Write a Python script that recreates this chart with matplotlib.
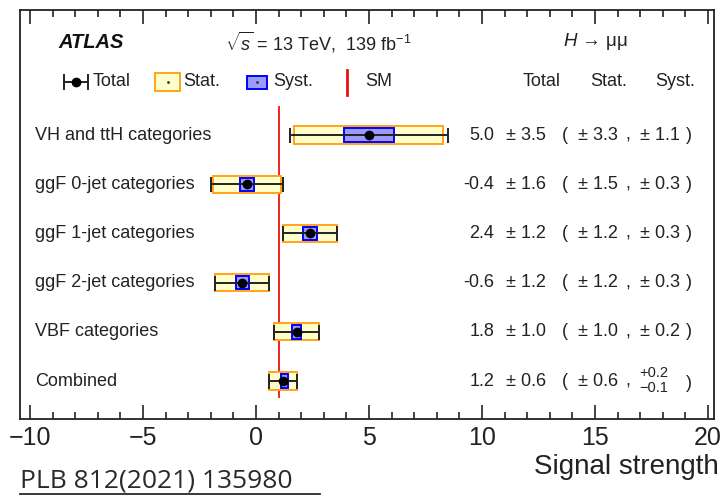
import matplotlib.pyplot as plt
from matplotlib.lines import Line2D
from matplotlib.patches import Rectangle

plt.rcParams['font.family'] = ['Liberation Sans', 'DejaVu Sans']
plt.rcParams['mathtext.fontset'] = 'custom'
plt.rcParams['mathtext.rm'] = 'Liberation Sans'
plt.rcParams['mathtext.it'] = 'Liberation Sans:italic'

# data
categories = ['VH and ttH categories', 'ggF 0-jet categories', 'ggF 1-jet categories',
              'ggF 2-jet categories', 'VBF categories', 'Combined']
mu = [5.0, -0.4, 2.4, -0.6, 1.8, 1.2]
tot_err = [3.5, 1.6, 1.2, 1.2, 1.0, 0.6]
stat_err = [3.3, 1.5, 1.2, 1.2, 1.0, 0.6]
syst_up = [1.1, 0.3, 0.3, 0.3, 0.2, 0.2]
syst_dn = [1.1, 0.3, 0.3, 0.3, 0.2, 0.1]
sm_value = 1.0

W, H = 725, 496
fig = plt.figure(figsize=(W / 100, H / 100), dpi=100)
ax = fig.add_axes([20 / W, 1 - 419 / H, (714 - 20) / W, (419 - 10) / H])

rows = list(range(len(categories)))
txt = '#222222'

# stat boxes
ax.barh(rows, [2 * s for s in stat_err], left=[m - s for m, s in zip(mu, stat_err)],
        height=0.35, color='#ffffcc', edgecolor='#ffa31a', linewidth=1.4, zorder=2)
# syst boxes
ax.barh(rows, [u + d for u, d in zip(syst_up, syst_dn)],
        left=[m - d for m, d in zip(mu, syst_dn)],
        height=0.27, color='#9a9aff', edgecolor='#0000ff', linewidth=1.4, zorder=3)
# total error bars
ax.errorbar(mu, rows, xerr=tot_err, fmt='o', color='black', ecolor=txt,
            elinewidth=1.4, capsize=5.4, capthick=1.4, markersize=6, zorder=4)
# SM line
ax.plot([sm_value, sm_value], [5.33, -0.57], color='#ee1111', linewidth=1.3, zorder=1)

ax.set_xlim(-10.44, 20.27)
ax.set_ylim(5.77, -2.54)
ax.set_yticks([])
ax.set_xticks(range(-10, 21, 5))
ax.set_xticks(range(-10, 21, 1), minor=True)
ax.set_xticklabels(['\u221210', '\u22125', '0', '5', '10', '15', '20'])
ax.tick_params(axis='x', which='both', direction='in', top=True, bottom=True,
               labelsize=18, pad=5, width=1.2, color=txt, labelcolor=txt)
ax.tick_params(axis='x', which='major', length=10)
ax.tick_params(axis='x', which='minor', length=5)
for sp in ax.spines.values():
    sp.set_linewidth(1.3)
    sp.set_color(txt)

# category labels and value columns
for i, name in enumerate(categories):
    ax.text(-9.78, i, name, fontsize=13, va='center', ha='left', color=txt)
    ax.text(10.55, i, f'{mu[i]:.1f}', fontsize=13, va='center', ha='right', color=txt)
    ax.text(11.08, i, f'\u00b1 {tot_err[i]:.1f}', fontsize=13, va='center', ha='left', color=txt)
    ax.text(13.55, i, '(', fontsize=13, va='center', ha='left', color=txt)
    ax.text(14.25, i, f'\u00b1 {stat_err[i]:.1f}', fontsize=13, va='center', ha='left', color=txt)
    ax.text(16.35, i, ',', fontsize=13, va='center', ha='left', color=txt)
    if syst_up[i] == syst_dn[i]:
        ax.text(17.0, i, f'\u00b1 {syst_up[i]:.1f}', fontsize=13, va='center', ha='left', color=txt)
        ax.text(19.05, i, ')', fontsize=13, va='center', ha='left', color=txt)
    else:
        ax.text(16.98, i - 0.17, f'+{syst_up[i]:.1f}', fontsize=10.5, va='center', ha='left', color=txt)
        ax.text(16.98, i + 0.14, f'\u2212{syst_dn[i]:.1f}', fontsize=10.5, va='center', ha='left', color=txt)
        ax.text(19.05, i + 0.05, ')', fontsize=13, va='center', ha='left', color=txt)


def fx(px):
    return px / W


def fy(py):
    return 1 - py / H


# header
fig.text(fx(58), fy(42), 'ATLAS', fontsize=14.5, fontweight='bold', fontstyle='italic',
         va='center', ha='left', color='#111111')
fig.text(fx(225), fy(42), r'$\sqrt{s}$ = 13 TeV,  139 fb$^{-1}$', fontsize=13,
         va='center', ha='left', color=txt)
fig.text(fx(563), fy(42), '$H$ \u2192 \u03bc\u03bc', fontsize=13.5, va='center', ha='left', color=txt)

# legend row
ly = 82
fig.add_artist(Line2D([fx(64), fx(88)], [fy(ly), fy(ly)], color=txt, lw=1.4))
fig.add_artist(Line2D([fx(64), fx(64)], [fy(ly - 7), fy(ly + 7)], color=txt, lw=1.4))
fig.add_artist(Line2D([fx(88), fx(88)], [fy(ly - 7), fy(ly + 7)], color=txt, lw=1.4))
fig.add_artist(Line2D([fx(76)], [fy(ly)], marker='o', color='black', markersize=6))
fig.text(fx(93), fy(ly), 'Total', fontsize=13, va='center', ha='left', color=txt)

fig.add_artist(Rectangle((fx(155), fy(91)), fx(25), (91 - 73) / H, facecolor='#ffffcc',
                         edgecolor='#ffa31a', lw=1.4, transform=fig.transFigure))
fig.add_artist(Line2D([fx(167.5)], [fy(82)], marker='o', color='#333333', markersize=1))
fig.text(fx(183), fy(ly), 'Stat.', fontsize=13, va='center', ha='left', color=txt)

fig.add_artist(Rectangle((fx(247), fy(89)), fx(20), (89 - 76) / H, facecolor='#9a9aff',
                         edgecolor='#0000ff', lw=1.4, transform=fig.transFigure))
fig.add_artist(Line2D([fx(257)], [fy(82.5)], marker='o', color='#333333', markersize=1))
fig.text(fx(273), fy(ly), 'Syst.', fontsize=13, va='center', ha='left', color=txt)

fig.add_artist(Line2D([fx(347), fx(347)], [fy(70), fy(95)], color='#ee1111', lw=2))
fig.text(fx(365), fy(ly), 'SM', fontsize=13, va='center', ha='left', color=txt)

fig.text(fx(523), fy(ly), 'Total', fontsize=13, va='center', ha='left', color=txt)
fig.text(fx(590), fy(ly), 'Stat.', fontsize=13, va='center', ha='left', color=txt)
fig.text(fx(655), fy(ly), 'Syst.', fontsize=13, va='center', ha='left', color=txt)

# axis title and reference
fig.text(fx(719), fy(467), 'Signal strength', fontsize=20, va='center', ha='right', color=txt)
fig.text(fx(20), fy(481), 'PLB 812(2021) 135980', fontsize=19, va='center', ha='left',
         color='#2a2a2a', family=['Open Sans', 'DejaVu Sans'])
fig.add_artist(Line2D([fx(20), fx(320)], [fy(494), fy(494)], color='#2a2a2a', lw=1.3))

fig.savefig('out.png', dpi=100)
